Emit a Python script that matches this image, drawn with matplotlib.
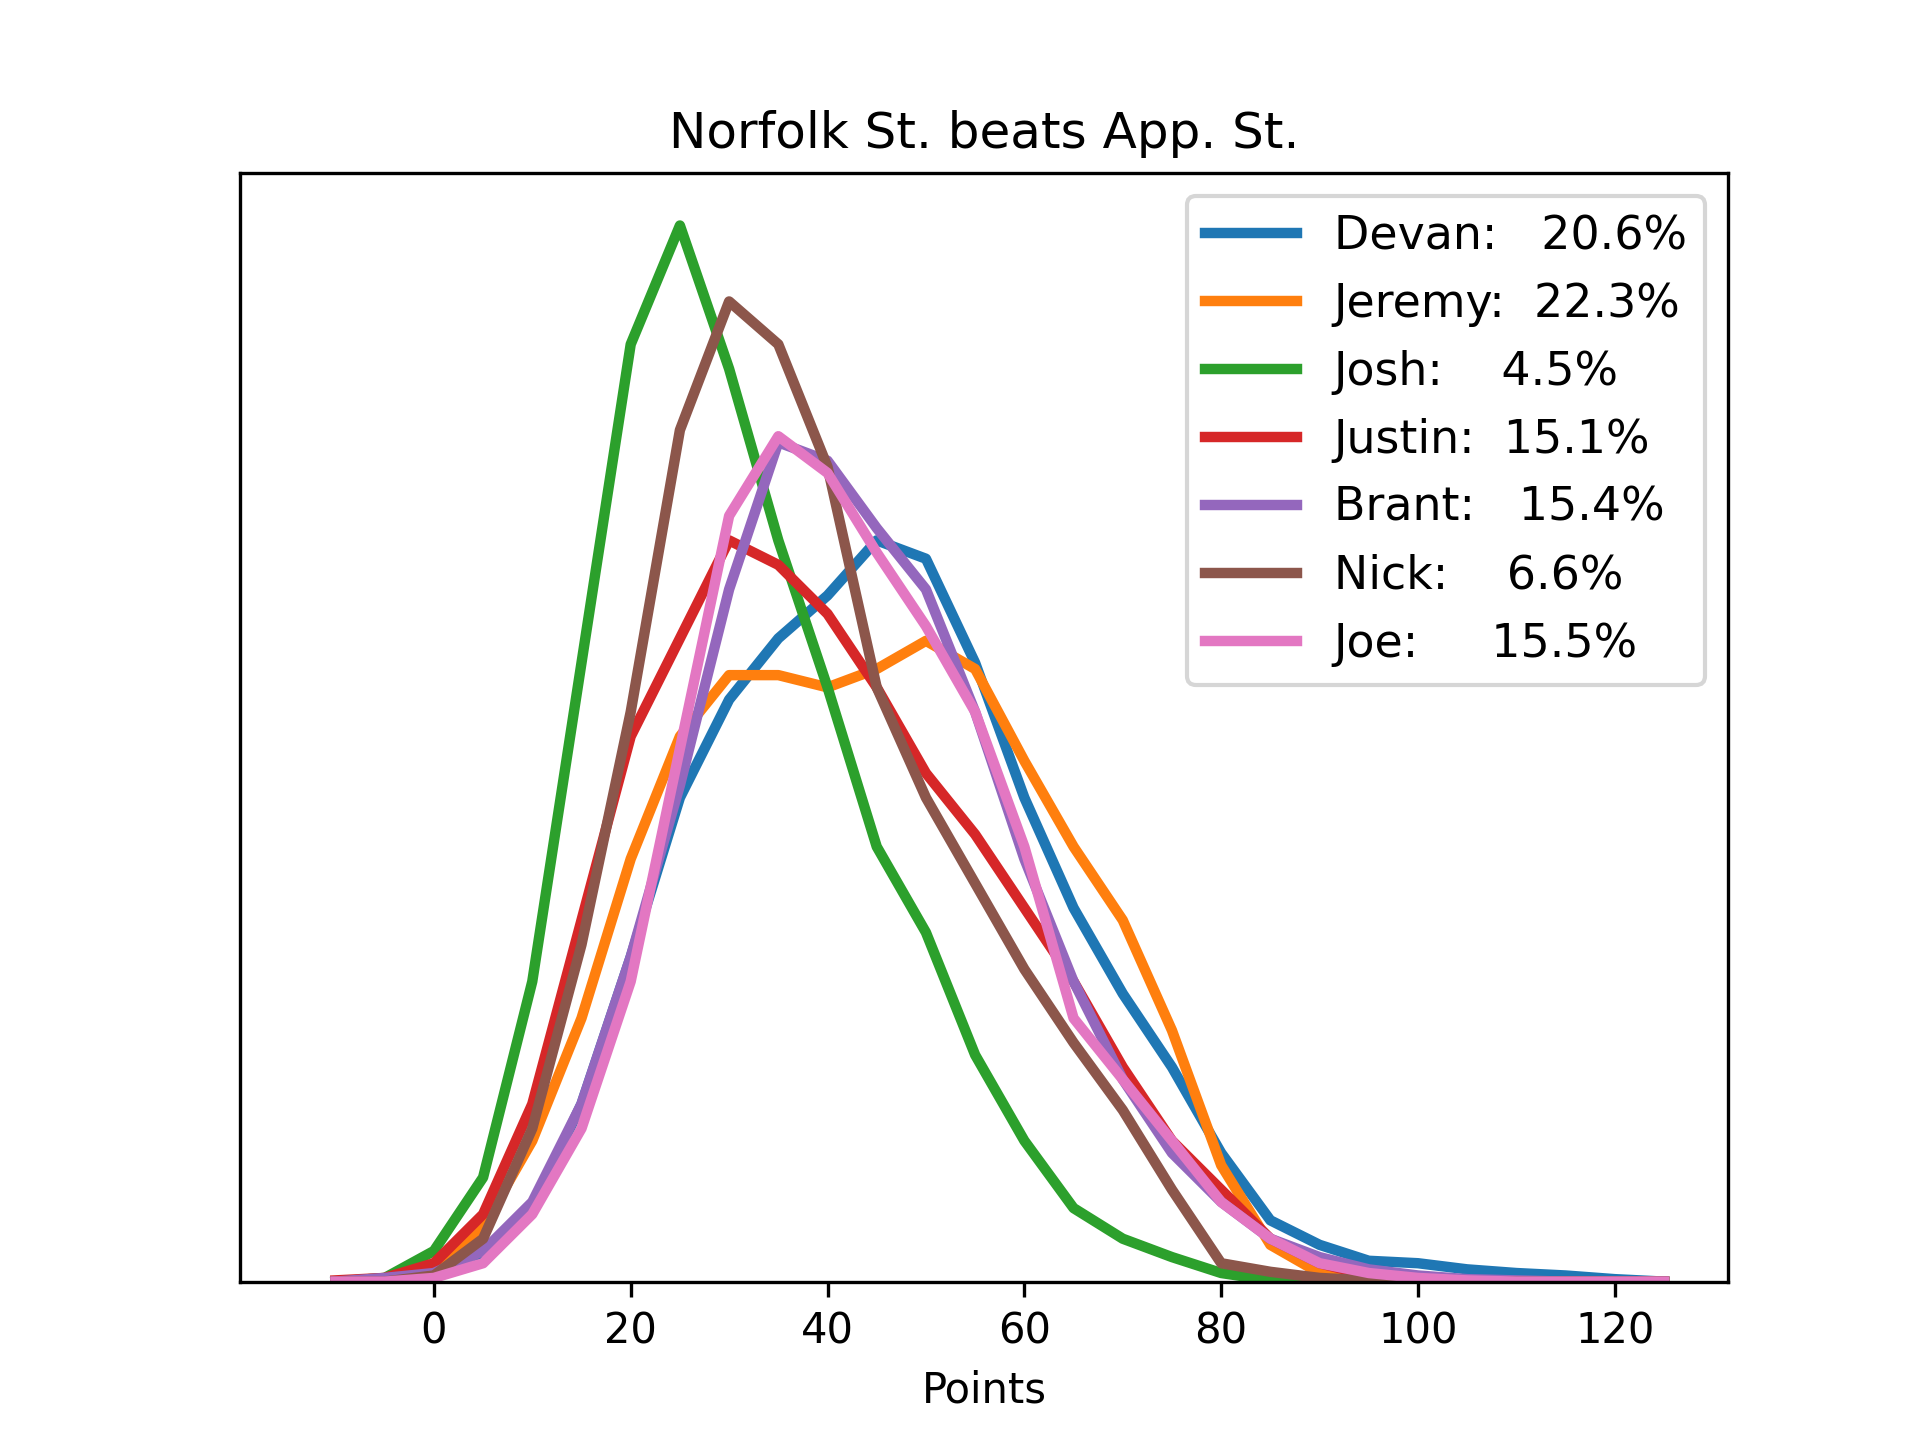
import numpy as np
import matplotlib.pyplot as plt

# heights (arbitrary density units)
x = np.arange(-10, 130, 5)
devan  = [0, 0, 5, 20, 60, 145, 265, 395, 475, 525, 560, 605, 590, 505, 395, 305, 235, 175, 105, 50, 30, 17, 15, 10, 7, 5, 2, 0]
jeremy = [0, 1, 10, 45, 115, 215, 345, 445, 495, 495, 485, 500, 523, 500, 425, 355, 295, 205, 95, 30, 7, 1, 0, 0, 0, 0, 0, 0]
josh   = [0, 3, 25, 85, 245, 505, 765, 862, 745, 605, 485, 355, 285, 185, 115, 60, 35, 20, 7, 1, 0, 0, 0, 0, 0, 0, 0, 0]
justin = [1, 3, 15, 55, 145, 295, 445, 525, 605, 585, 545, 485, 415, 365, 305, 245, 175, 115, 75, 35, 15, 5, 1, 0, 0, 0, 0, 0]
brant  = [0, 3, 7, 25, 65, 145, 265, 405, 565, 685, 670, 615, 565, 465, 345, 245, 165, 105, 65, 35, 20, 10, 5, 2, 1, 0, 0, 0]
nick   = [0, 0, 5, 35, 125, 275, 465, 695, 800, 765, 665, 485, 395, 325, 255, 195, 140, 75, 15, 8, 3, 1, 0, 0, 0, 0, 0, 0]
joe    = [0, 0, 3, 15, 55, 125, 245, 435, 625, 690, 660, 595, 535, 465, 355, 215, 165, 115, 65, 35, 15, 7, 3, 1, 0, 0, 0, 0]

labels = ["Devan:   20.6%", "Jeremy:  22.3%", "Josh:    4.5%", "Justin:  15.1%",
          "Brant:   15.4%", "Nick:    6.6%", "Joe:     15.5%"]
series = [devan, jeremy, josh, justin, brant, nick, joe]

fig, ax = plt.subplots(figsize=(6.4, 4.8), dpi=300)
for s, lab in zip(series, labels):
    ax.plot(x, s, lw=2.5, label=lab)

ax.set_xlim(-19.7, 131.5)
ax.set_ylim(0, 905)
ax.set_yticks([])
ax.set_xticks(range(0, 121, 20))
ax.set_xlabel("Points")
ax.set_title("Norfolk St. beats App. St.")
ax.legend(loc="upper right", fontsize=11)
fig.savefig("out.png")
